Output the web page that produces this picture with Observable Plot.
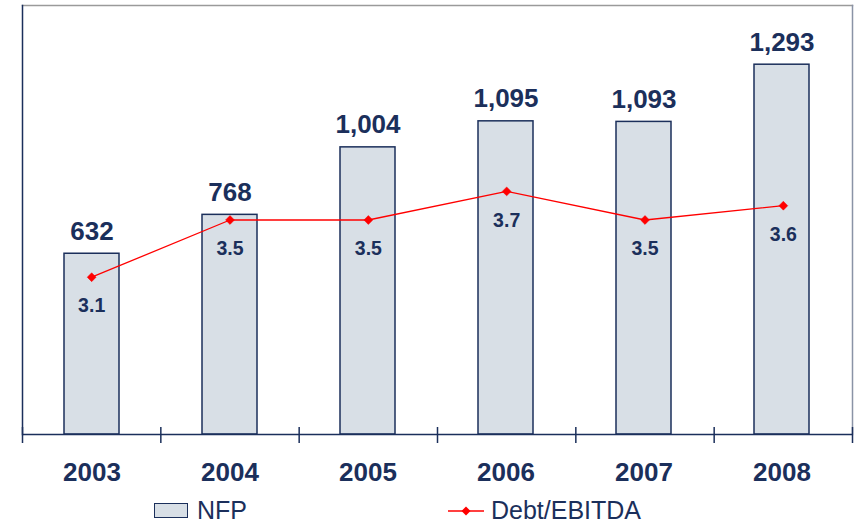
<!DOCTYPE html>
<html>
<head>
<meta charset="utf-8">
<script src="https://cdn.jsdelivr.net/npm/d3@7"></script>
<script src="https://cdn.jsdelivr.net/npm/@observablehq/plot@0.6"></script>
<style>
  html, body { margin: 0; padding: 0; background: #fff; }
  #wrap { position: relative; width: 855px; height: 523px; font-family: "Liberation Sans", Arial, sans-serif; }
  #wrap > svg, #wrap > div.layer { position: absolute; left: 0; top: 0; }
  .leg { position: absolute; font-size: 25px; color: #1b2f5b; line-height: 1; }
</style>
</head>
<body>
<div id="wrap"></div>
<script>
const years = ["2003", "2004", "2005", "2006", "2007", "2008"];
const nfp = [632, 768, 1004, 1095, 1093, 1293];
const debtEbitda = [3.1, 3.5, 3.5, 3.7, 3.5, 3.6];
const boundaries = [0, 1, 2, 3, 4, 5, 6];

const navy = "#1b2f5b";
const barFill = "#d8dfe6";
const red = "#ff0000";
const font = "'Liberation Sans', Arial, sans-serif";

const rows = years.map((y, i) => ({year: y, nfp: nfp[i], ratio: debtEbitda[i]}));

const common = {
  width: 855,
  height: 490,
  marginLeft: 22,
  marginRight: 3,
  marginTop: 5,
  marginBottom: 56,
  style: {fontFamily: font, background: "transparent", overflow: "visible"}
};
const xBand = {type: "band", domain: years, paddingInner: 0.6, paddingOuter: 0.3};

const bars = Plot.plot({
  ...common,
  x: {...xBand, label: null},
  y: {domain: [0, 1500], axis: null},
  marks: [
    Plot.frame({anchor: "top", stroke: "#9a9a9a", strokeWidth: 1.5}),
    Plot.frame({anchor: "right", stroke: "#8a93a6", strokeWidth: 1.5}),
    Plot.barY(rows, {x: "year", y: "nfp", fill: barFill, stroke: navy, strokeWidth: 1.5}),
    Plot.text(rows, {x: "year", y: "nfp", text: d => d3.format(",")(d.nfp), dy: -14, lineAnchor: "bottom",
      fontSize: 26, fontWeight: "bold", fill: navy}),
    Plot.axisX({tickSize: 0, tickPadding: 28, fontSize: 26, fontWeight: "bold", color: navy, label: null})
  ]
});

const lineLayer = Plot.plot({
  ...common,
  x: {type: "linear", domain: [0, 6], axis: null},
  y: {domain: [2, 5], axis: null},
  marks: [
    Plot.ruleY([2], {stroke: navy, strokeWidth: 1.5}),
    Plot.ruleX(boundaries, {x: d => d, y1: 2, y2: 2, insetTop: -7, insetBottom: -9, stroke: navy, strokeWidth: 1.5}),
    Plot.frame({anchor: "left", stroke: navy, strokeWidth: 1.5}),
    Plot.line(rows, {x: (d, i) => i + 0.5, y: "ratio", stroke: red, strokeWidth: 1.3}),
    Plot.dot(rows, {x: (d, i) => i + 0.5, y: "ratio", symbol: "diamond2", r: 4, fill: red, stroke: red, strokeWidth: 0.5}),
    Plot.text(rows, {x: (d, i) => i + 0.5, y: "ratio", text: d => d3.format(".1f")(d.ratio), dy: 29,
      fontSize: 19.5, fontWeight: "bold", fill: navy})
  ]
});

const wrap = document.getElementById("wrap");
wrap.appendChild(bars);
wrap.appendChild(lineLayer);

// Legend
const leg1 = document.createElement("div");
leg1.className = "leg";
leg1.style.left = "154px";
leg1.style.top = "503px";
leg1.innerHTML = `<span style="position:absolute;left:0;top:0;width:32px;height:13px;background:${barFill};border:1.5px solid ${navy};"></span><span style="position:absolute;left:43px;top:-5px;white-space:nowrap;">NFP</span>`;
wrap.appendChild(leg1);

const leg2 = document.createElement("div");
leg2.className = "leg";
leg2.style.left = "448px";
leg2.style.top = "503px";
leg2.innerHTML = `<svg width="38" height="16" style="position:absolute;left:0;top:0;overflow:visible"><line x1="0" y1="8" x2="36" y2="8" stroke="${red}" stroke-width="1.5"/><path d="M18,3.5 L22.5,8 L18,12.5 L13.5,8 Z" fill="${red}"/></svg><span style="position:absolute;left:43px;top:-5px;white-space:nowrap;">Debt/EBITDA</span>`;
wrap.appendChild(leg2);
</script>
</body>
</html>
